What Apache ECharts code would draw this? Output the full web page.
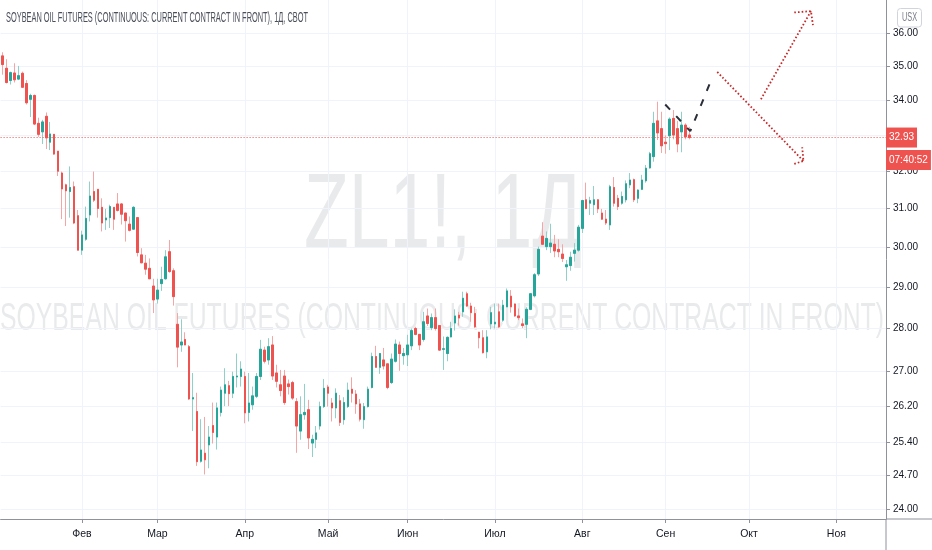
<!DOCTYPE html>
<html>
<head>
<meta charset="utf-8">
<title>ZL1!, 1Д</title>
<script src="https://cdn.jsdelivr.net/npm/echarts@6.0.0/dist/echarts.min.js"></script>
<style>
  html, body { margin: 0; padding: 0; background: #ffffff; }
  #chart { width: 932px; height: 550px; }
</style>
</head>
<body>
<div id="chart"></div>
<script>
// daily bars, 2020-01-03 .. 2020-09-10
var openV = [35.30,34.93,34.57,34.79,34.61,34.78,34.48,34.02,34.13,33.33,33.09,33.53,32.80,33.02,32.55,31.95,31.63,31.45,31.58,30.81,
  29.92,30.20,30.83,31.45,31.51,31.03,30.70,30.76,31.03,31.12,31.12,30.88,30.59,30.46,30.76,29.80,29.59,29.46,29.02,28.70,
  29.08,29.20,29.88,29.40,28.09,27.60,27.73,27.56,26.36,26.08,25.00,25.17,25.35,25.77,25.52,26.06,26.49,26.66,26.49,26.86,
  26.87,26.87,26.06,26.23,26.42,26.87,27.48,27.25,27.60,26.95,26.68,26.88,26.70,26.73,26.30,25.65,26.01,26.12,25.39,25.47,
  25.76,26.19,26.63,26.27,26.16,26.32,25.90,26.19,26.58,26.47,26.25,25.90,26.19,26.62,27.33,27.08,27.25,27.16,26.73,27.22,
  27.60,27.35,27.37,27.58,27.99,27.85,27.73,28.29,28.01,28.25,28.06,27.50,27.40,27.79,28.12,28.31,28.39,28.83,28.53,28.35,
  27.90,27.77,27.44,28.10,28.10,28.39,28.19,28.51,28.77,28.58,28.29,28.10,28.09,28.45,28.78,29.32,30.28,30.01,30.01,30.07,
  29.94,29.82,29.50,29.53,29.84,29.92,30.48,31.23,31.14,31.10,31.23,30.88,30.72,30.57,31.56,31.27,31.14,31.23,31.63,31.77,
  31.27,31.51,31.74,32.09,32.40,33.40,33.18,32.80,32.98,33.47,33.18,33.09,33.28,33.00];
var highV = [35.41,35.20,34.83,35.08,35.00,34.83,34.58,34.18,34.16,33.49,33.43,33.64,33.37,33.03,32.55,31.99,31.66,32.13,31.72,30.96,
  30.42,31.05,31.72,31.99,31.51,31.27,30.99,31.10,31.03,31.41,31.14,30.88,30.79,31.06,30.76,29.97,29.80,29.71,29.20,29.20,
  29.50,29.92,30.18,29.46,28.36,28.21,27.90,27.60,26.95,26.50,25.91,25.96,25.76,26.28,26.28,26.64,27.06,26.77,26.98,27.40,
  27.22,26.98,26.95,26.64,26.95,27.72,27.56,27.76,27.81,27.14,27.02,27.02,26.80,26.77,26.38,26.42,26.70,26.34,25.57,25.76,
  26.30,26.81,26.68,26.38,26.60,26.45,26.40,26.73,26.85,26.56,26.36,26.27,26.64,27.42,27.58,27.41,27.53,27.16,27.40,27.73,
  27.68,27.53,27.84,27.99,28.03,27.85,28.39,28.47,28.35,28.47,28.06,27.80,27.80,28.15,28.45,28.39,28.88,28.88,28.61,28.51,
  27.91,27.95,27.95,28.51,28.59,28.59,28.68,28.96,28.92,28.59,28.47,28.23,28.50,28.85,29.34,30.01,30.64,30.40,30.60,30.31,
  30.20,30.07,29.67,29.88,30.10,30.57,31.23,31.69,31.31,31.60,31.25,30.99,30.96,31.63,31.84,31.36,31.45,31.75,31.95,31.80,
  31.51,31.90,32.17,32.53,33.66,33.95,33.66,32.99,33.50,33.71,33.40,33.66,33.33,33.23];
var lowV = [34.74,34.48,34.45,34.51,34.58,34.35,33.87,33.51,33.28,32.95,32.75,32.61,32.58,32.45,31.87,30.72,30.54,30.76,30.59,29.92,
  29.80,30.16,30.66,31.17,30.76,30.40,30.44,30.49,30.44,30.92,30.58,30.14,30.40,30.44,29.76,29.59,29.30,29.20,28.36,28.59,
  28.90,29.18,29.35,28.54,27.08,27.44,27.60,26.34,25.65,24.90,24.97,24.72,24.85,25.38,25.25,25.97,26.20,26.20,26.38,26.62,
  26.64,25.82,25.86,26.12,26.38,26.79,27.17,27.14,26.79,26.62,26.42,26.23,26.46,26.34,25.18,25.46,25.90,25.26,25.09,25.28,
  25.68,26.16,26.19,25.86,25.93,25.76,25.79,26.16,26.28,26.03,25.86,25.70,26.17,26.60,27.08,26.93,27.03,26.58,26.70,27.19,
  27.00,27.14,27.11,27.48,27.83,27.48,27.68,28.05,27.95,27.94,27.46,27.02,27.22,27.78,27.94,28.06,28.27,28.51,28.15,28.00,
  27.52,27.40,27.29,27.97,27.99,28.00,28.15,28.51,28.37,28.27,28.19,28.00,27.76,28.43,28.74,29.27,30.07,29.92,29.85,29.74,
  29.74,29.62,29.15,29.40,29.63,29.88,30.36,30.98,30.83,30.83,30.88,30.70,30.57,30.44,31.05,30.96,31.10,31.16,31.54,31.17,
  31.14,31.49,31.69,32.07,32.26,32.86,32.50,32.48,32.58,32.88,32.52,32.52,32.88,32.88];
var closeV = [35.04,34.51,34.80,34.59,34.71,34.37,33.92,34.13,33.31,33.02,33.37,32.92,33.03,32.47,32.00,31.52,31.47,31.56,30.62,29.92,
  30.31,30.74,31.33,31.22,31.00,30.62,30.75,31.05,30.72,30.95,30.85,30.68,30.43,31.03,29.86,29.60,29.44,29.20,28.68,28.92,
  29.18,29.75,29.38,28.76,27.55,27.67,27.60,26.36,26.39,24.99,25.24,25.03,25.52,25.62,26.16,26.56,26.68,26.48,26.87,26.88,
  27.04,26.05,26.27,26.43,26.87,27.50,27.22,27.56,26.88,26.76,26.55,26.28,26.64,26.38,25.76,26.01,26.06,25.50,25.47,25.61,
  26.19,26.60,26.49,26.16,26.49,25.84,26.28,26.56,26.49,26.25,25.91,26.19,26.58,27.33,27.08,27.40,27.11,26.62,27.27,27.62,
  27.40,27.40,27.60,27.94,27.85,27.60,28.15,28.11,28.25,27.99,27.48,27.51,27.78,27.99,28.29,28.24,28.72,28.53,28.37,28.03,
  27.77,27.42,27.79,28.37,28.14,28.03,28.55,28.90,28.51,28.29,28.25,28.06,28.45,28.83,29.30,29.94,30.07,30.22,30.10,29.90,
  29.88,29.71,29.55,29.74,29.92,30.51,31.21,31.00,31.21,31.23,30.99,30.72,30.62,31.58,31.14,31.05,31.32,31.66,31.76,31.23,
  31.49,31.76,32.08,32.48,33.33,33.06,32.70,32.76,33.45,33.00,32.75,33.28,32.95,32.93];

var lastPrice = 32.93;
var countdown = '07:40:52';

// exchange holidays inside the window, and the first bar shown
var holidays = ['2020-01-20', '2020-02-17', '2020-04-10', '2020-05-25', '2020-07-03', '2020-09-07'];
var firstDay = '2020-01-03';
var barCount = 223;   // bars on the time scale, future included
var monthNames = ['Янв', 'Фев', 'Мар', 'Апр', 'Май', 'Июн', 'Июл', 'Авг', 'Сен', 'Окт', 'Ноя', 'Дек'];

var priceTicks = [24, 24.7, 25.4, 26.2, 27, 28, 29, 30, 31, 32, 33, 34, 35, 36];
var priceLabels = [24, 24.7, 25.4, 26.2, 27, 28, 29, 30, 31, 32, 34, 35, 36];

// drawings: [bar index, price]
var trendDash = [[166.9, 33.87], [173.2, 33.11], [178.8, 34.67]];
var arrowDown = [[180.0, 34.82], [201.7, 32.28]];
var arrowDownHead = [[199.4, 32.20], [201.7, 32.28], [201.4, 32.66]];
var arrowUp = [[191.0, 34.02], [203.6, 36.67]];
var arrowUpHead = [[199.4, 36.63], [203.6, 36.67], [204.1, 36.24]];

var titleText = 'SOYBEAN OIL FUTURES (CONTINUOUS: CURRENT CONTRACT IN FRONT), 1Д, CBOT';
var markBig = 'ZL1!, 1Д';
var markSmall = 'SOYBEAN OIL FUTURES (CONTINUOUS: CURRENT CONTRACT IN FRONT)';

function tradingDays(start, count, skip) {
    var out = [];
    var d = new Date(start + 'T00:00:00Z');
    while (out.length < count) {
        var wd = d.getUTCDay();
        var s = d.toISOString().slice(0, 10);
        if (wd !== 0 && wd !== 6 && skip.indexOf(s) < 0) out.push(s);
        d.setUTCDate(d.getUTCDate() + 1);
    }
    return out;
}

var dates = tradingDays(firstDay, barCount, holidays);
var monthTickIdx = [];
for (var i = 1; i < dates.length; i++) {
    if (dates[i].slice(5, 7) !== dates[i - 1].slice(5, 7)) monthTickIdx.push(i);
}

// wicks (full range) and bodies (open/close only)
var ohlc = [];
var bodies = [];
for (var k = 0; k < openV.length; k++) {
    ohlc.push([openV[k], closeV[k], lowV[k], highV[k]]);
    bodies.push([openV[k], closeV[k], Math.min(openV[k], closeV[k]), Math.max(openV[k], closeV[k])]);
}

var FONT = '"Liberation Sans", Arial, sans-serif';
var measureCtx = document.createElement('canvas').getContext('2d');
function squeeze(text, font, width) {
    measureCtx.font = font;
    return width / measureCtx.measureText(text).width;
}

var titleFont = '14px "Liberation Sans", sans-serif';
var bigFont = '106px "Liberation Sans", sans-serif';
var smallFont = '39px "Liberation Sans", sans-serif';
var usxFont = '12px "Liberation Sans", sans-serif';

var chart = echarts.init(document.getElementById('chart'), null, { renderer: 'canvas' });

var option = {
    animation: false,
    backgroundColor: '#ffffff',
    grid: { left: 0.6, right: 46, top: 0, bottom: 31, containLabel: false },
    graphic: [
        {
            type: 'text', x: 443, y: 218, z: -10, silent: true,
            scaleX: squeeze(markBig, bigFont, 278),
            style: { text: markBig, font: bigFont, fill: 'rgba(120,123,134,0.16)', align: 'center', verticalAlign: 'middle', textAlign: 'center', textVerticalAlign: 'middle' }
        },
        {
            type: 'text', x: 442, y: 319, z: -10, silent: true,
            scaleX: squeeze(markSmall, smallFont, 884),
            style: { text: markSmall, font: smallFont, fill: 'rgba(120,123,134,0.16)', align: 'center', verticalAlign: 'middle', textAlign: 'center', textVerticalAlign: 'middle' }
        },
        {
            type: 'text', x: 6, y: 18, z: 10, silent: true,
            scaleX: squeeze(titleText, titleFont, 302),
            style: { text: titleText, font: titleFont, fill: '#4a4e59', align: 'left', verticalAlign: 'middle', textAlign: 'left', textVerticalAlign: 'middle' }
        },
        {
            type: 'rect', z: 10, silent: true,
            shape: { x: 897.5, y: 8.5, width: 24, height: 18.5, r: 3 },
            style: { fill: '#ffffff', stroke: '#d1d4dc', lineWidth: 1 }
        },
        {
            type: 'text', x: 909.5, y: 18, z: 11, silent: true,
            scaleX: squeeze('USX', usxFont, 15),
            style: { text: 'USX', font: usxFont, fill: '#787b86', align: 'center', verticalAlign: 'middle', textAlign: 'center', textVerticalAlign: 'middle' }
        },
        {
            type: 'line', z: 10, silent: true,
            shape: { x1: 886, y1: 519, x2: 932, y2: 519 },
            style: { stroke: '#8f929b', lineWidth: 1 }
        },
        {
            type: 'line', z: 10, silent: true,
            shape: { x1: 886, y1: 519, x2: 886, y2: 550 },
            style: { stroke: '#8f929b', lineWidth: 1 }
        }
    ],
    xAxis: [
        {
            type: 'category',
            data: dates,
            boundaryGap: true,
            show: false,
            axisLine: { show: false, onZero: false }
        },
        {
            type: 'value',
            min: -0.5,
            max: barCount - 0.5,
            position: 'bottom',
            axisLine: { show: true, onZero: false, lineStyle: { color: '#8f929b', width: 1 } },
            axisTick: { show: true, length: 4, customValues: monthTickIdx, lineStyle: { color: '#8f929b' } },
            axisLabel: {
                customValues: monthTickIdx,
                margin: 10,
                color: '#131722',
                fontSize: 10.5,
                fontFamily: FONT,
                formatter: function (v) {
                    var idx = Math.round(v);
                    return monthNames[parseInt(dates[idx].slice(5, 7), 10) - 1];
                }
            },
            splitLine: { show: true, lineStyle: { color: '#f0f3fa', width: 1 } }
        }
    ],
    yAxis: {
        type: 'log',
        logBase: 10,
        min: 23.80,
        max: 37.02,
        position: 'right',
        axisLine: { show: true, onZero: false, lineStyle: { color: '#8f929b', width: 1 } },
        axisTick: { show: true, length: 4, customValues: priceTicks, lineStyle: { color: '#8f929b' } },
        axisLabel: {
            customValues: priceLabels,
            margin: 7,
            color: '#131722',
            fontSize: 10,
            fontFamily: FONT,
            formatter: function (v) { return Number(v).toFixed(2); }
        },
        splitLine: { show: true, lineStyle: { color: '#f0f3fa', width: 1 } }
    },
    series: [
        {
            name: 'wicks',
            type: 'candlestick',
            xAxisIndex: 0,
            data: ohlc,
            barWidth: 2,
            z: 2,
            silent: true,
            itemStyle: {
                color: '#8fd1ca', color0: '#f5a6a4',
                borderColor: '#8fd1ca', borderColor0: '#f5a6a4',
                borderWidth: 1
            }
        },
        {
            name: 'ZL1!',
            type: 'candlestick',
            xAxisIndex: 0,
            data: bodies,
            barWidth: 2,
            z: 3,
            silent: true,
            itemStyle: {
                color: '#26a69a', color0: '#ef5350',
                borderColor: '#26a69a', borderColor0: '#ef5350',
                borderWidth: 1
            },
            markLine: {
                silent: true,
                symbol: ['none', 'none'],
                lineStyle: { color: '#ef5350', type: [1, 2], width: 1 },
                label: {
                    show: true,
                    position: 'end',
                    distance: 0,
                    formatter: '{e| }\n{a|' + lastPrice.toFixed(2) + '}\n{s| }\n{b|' + countdown + '}',
                    rich: {
                        e: { height: 22.5, lineHeight: 22.5, fontSize: 2 },
                        s: { height: 2.5, lineHeight: 2.5, fontSize: 2 },
                        a: { height: 20, lineHeight: 20, padding: [0, 3], backgroundColor: '#ef5350', color: '#ffffff', fontSize: 10, fontFamily: FONT },
                        b: { height: 20, lineHeight: 20, padding: [0, 3], backgroundColor: '#ef5350', color: '#ffffff', fontSize: 10, fontFamily: FONT }
                    }
                },
                data: [{ yAxis: lastPrice }]
            }
        },
        {
            name: 'trend',
            type: 'line',
            xAxisIndex: 1,
            data: trendDash,
            symbol: 'none',
            silent: true,
            z: 5,
            lineStyle: { color: '#2a2e39', width: 2, type: [7, 9] }
        },
        {
            name: 'down',
            type: 'line',
            xAxisIndex: 1,
            data: arrowDown,
            symbol: 'none',
            silent: true,
            z: 5,
            lineStyle: { color: '#c62828', width: 1.8, type: [1.6, 2.1] }
        },
        {
            name: 'downHead',
            type: 'line',
            xAxisIndex: 1,
            data: arrowDownHead,
            symbol: 'none',
            silent: true,
            z: 5,
            lineStyle: { color: '#c62828', width: 1.8, type: [1.6, 2.1] }
        },
        {
            name: 'up',
            type: 'line',
            xAxisIndex: 1,
            data: arrowUp,
            symbol: 'none',
            silent: true,
            z: 5,
            lineStyle: { color: '#c62828', width: 1.8, type: [1.6, 2.1] }
        },
        {
            name: 'upHead',
            type: 'line',
            xAxisIndex: 1,
            data: arrowUpHead,
            symbol: 'none',
            silent: true,
            z: 5,
            lineStyle: { color: '#c62828', width: 1.8, type: [1.6, 2.1] }
        }
    ]
};

chart.setOption(option);
</script>
</body>
</html>
